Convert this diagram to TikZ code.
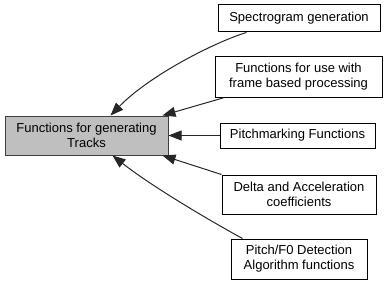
\documentclass[tikz,border=0pt]{standalone}
\usepackage{fontspec}
\setmainfont{Liberation Sans}
\usetikzlibrary{arrows.meta}
\begin{document}
\begin{tikzpicture}[x=1pt,y=-1pt,
  group/.style={draw=black, fill=white, line width=1pt, inner sep=0pt, align=center, font=\fontsize{13}{15}\selectfont},
  current/.style={group, fill=black!25, draw=black!75},
  link/.style={draw=black!85, line width=1pt, -{Triangle[length=13pt,width=10pt]}}]
\useasboundingbox (0,0) rectangle (387,286);
% the group this page documents
\node[current, minimum width=163pt, minimum height=39pt] (main) at (86.5,135.5) {Functions for generating\\Tracks};
% related groups
\node[group, minimum width=162pt, minimum height=27pt] (spec) at (299,18.5) {Spectrogram generation};
\node[group, minimum width=167pt, minimum height=40pt] (frame) at (298.5,77) {Functions for use with\\frame based processing};
\node[group, minimum width=155pt, minimum height=25pt] (pm) at (297.5,135.5) {Pitchmarking Functions};
\node[group, minimum width=154pt, minimum height=39pt] (delta) at (299,194.5) {Delta and Acceleration\\coefficients};
\node[group, minimum width=136pt, minimum height=40pt] (f0) at (299,259) {Pitch/F0 Detection\\Algorithm functions};
% connectors
\coordinate (specout) at ([xshift=29pt]spec.south west);
\coordinate (frameout) at ([xshift=10pt]frame.south west);
\coordinate (deltaout) at ([xshift=0pt]delta.north west);
\coordinate (f0out) at ([xshift=12pt]f0.north west);
\draw[link] (specout) .. controls (215,42) and (150,75) .. ([xshift=24pt]main.north);
\draw[link] (frameout) -- ([xshift=-6pt]main.north east);
\draw[link] (pm.west) -- (main.east);
\draw[link] (deltaout) -- ([xshift=-6pt]main.south east);
\draw[link] (f0out) .. controls (205,218) and (150,185) .. ([xshift=26pt]main.south);
\end{tikzpicture}
\end{document}
